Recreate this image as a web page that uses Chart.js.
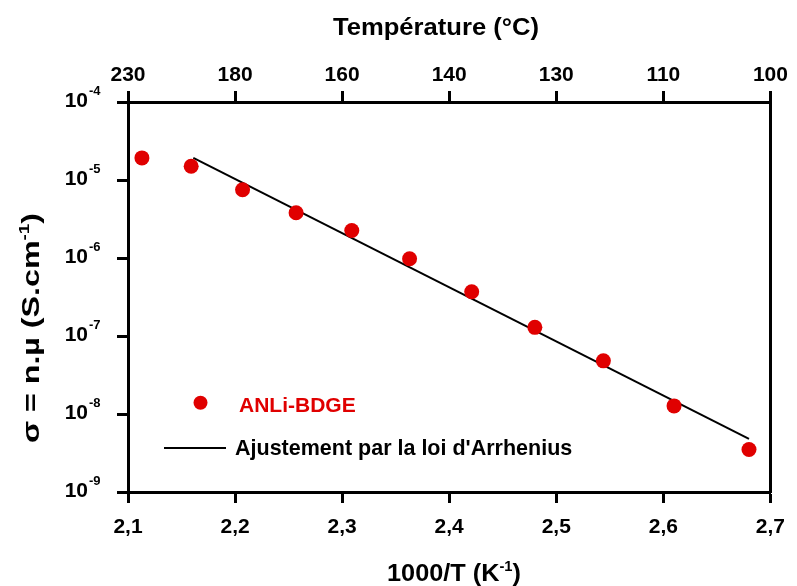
<!DOCTYPE html>
<html>
<head>
<meta charset="utf-8">
<script src="https://cdn.jsdelivr.net/npm/chart.js@4.4.1/dist/chart.umd.min.js"></script>
<style>
  html, body { margin: 0; padding: 0; background: #fff; }
  #wrap { width: 797px; height: 586px; }
</style>
</head>
<body>
<div id="wrap"><canvas id="arrhenius" width="797" height="586"></canvas></div>
<script>
// Values
const invT = [2.113, 2.159, 2.207, 2.257, 2.309, 2.363, 2.421, 2.480, 2.544, 2.610, 2.680];
const sigma = [1.92e-5, 1.50e-5, 7.5e-6, 3.8e-6, 2.25e-6, 9.8e-7, 3.7e-7, 1.29e-7, 4.8e-8, 1.27e-8, 3.5e-9];

// Arrhenius fit (straight line in log scale)
const fitInvT = [2.161, 2.680];
const fitSigma = [1.92e-5, 4.8e-9];

const xTicks = [2.1, 2.2, 2.3, 2.4, 2.5, 2.6, 2.7];
const xTickLabels = ["2,1", "2,2", "2,3", "2,4", "2,5", "2,6", "2,7"];
const tempLabels = ["230", "180", "160", "140", "130", "110", "100"];
const yExponents = [-4, -5, -6, -7, -8, -9];

const seriesName = "ANLi-BDGE";
const fitName = "Ajustement par la loi d'Arrhenius";

const FONT = "'Liberation Sans', Arial, Helvetica, sans-serif";
const red = "#e00000";
const black = "#000000";

// text with superscripts, optionally stretched to a target width
const drawRich = (ctx, parts, x, y, size, align, targetW) => {
  const supSize = Math.round(size * 0.6);
  const widths = parts.map(([t, sup]) => {
    ctx.font = `bold ${sup ? supSize : size}px ${FONT}`;
    return ctx.measureText(t).width;
  });
  const total = widths.reduce((a, b) => a + b, 0);
  const sx = targetW ? targetW / total : 1;
  ctx.save();
  ctx.translate(x, y);
  ctx.scale(sx, 1);
  let cx = align === "center" ? -total / 2 : align === "right" ? -total : 0;
  ctx.textAlign = "left";
  ctx.textBaseline = "alphabetic";
  parts.forEach(([t, sup], i) => {
    ctx.font = `bold ${sup ? supSize : size}px ${FONT}`;
    ctx.fillText(t, cx, sup ? -size * 0.42 : 0);
    cx += widths[i];
  });
  ctx.restore();
};

const decorations = {
  id: "decorations",
  afterDraw(chart) {
    const { ctx, chartArea, scales } = chart;
    ctx.save();
    ctx.fillStyle = black;

    // y tick labels 10^n
    yExponents.forEach((e) => {
      const py = scales.y.getPixelForValue(Math.pow(10, e));
      ctx.font = `bold 21px ${FONT}`;
      ctx.textAlign = "right";
      ctx.textBaseline = "alphabetic";
      ctx.fillText("10", chartArea.left - 40, py + 4.5);
      ctx.font = `bold 13px ${FONT}`;
      ctx.textAlign = "left";
      ctx.fillText(String(e), chartArea.left - 39, py - 7);
    });

    // axis titles
    drawRich(ctx, [["Température (°C)", false]], 436, 35, 24, "center", 206);
    drawRich(ctx, [["1000/T (K", false], ["-1", true], [")", false]], 454, 581, 24, "center", 134);
    ctx.save();
    ctx.translate(39, 328);
    ctx.rotate(-Math.PI / 2);
    drawRich(ctx, [["σ = n.µ (S.cm", false], ["-1", true], [")", false]], 0, 0, 24, "center", 230);
    ctx.restore();

    // legend
    const lx = chartArea.left;
    ctx.fillStyle = red;
    ctx.beginPath();
    ctx.arc(lx + 72.5, 402.7, 7, 0, Math.PI * 2);
    ctx.fill();
    ctx.font = `bold 21px ${FONT}`;
    ctx.textAlign = "left";
    ctx.fillText(seriesName, lx + 111, 411.5);

    ctx.strokeStyle = black;
    ctx.lineWidth = 2;
    ctx.beginPath();
    ctx.moveTo(lx + 36, 448);
    ctx.lineTo(lx + 98, 448);
    ctx.stroke();
    ctx.fillStyle = black;
    ctx.font = `bold 21.5px ${FONT}`;
    ctx.fillText(fitName, lx + 107, 455);
    ctx.restore();
  }
};

const axisGrid = {
  drawOnChartArea: false,
  drawTicks: true,
  tickLength: 11,
  tickWidth: 3,
  tickColor: black
};
const axisBorder = { display: true, color: black, width: 3 };
const tickFont = { family: FONT, size: 21, weight: "bold" };
const setXTicks = (scale) => {
  scale.ticks = xTicks.map((v) => ({ value: v }));
};

new Chart(document.getElementById("arrhenius"), {
  type: "scatter",
  data: {
    datasets: [
      {
        label: seriesName,
        data: invT.map((x, i) => ({ x, y: sigma[i] })),
        backgroundColor: red,
        borderWidth: 0,
        pointRadius: 7.5,
        pointHoverRadius: 7.5,
        order: 1
      },
      {
        label: fitName,
        data: fitInvT.map((x, i) => ({ x, y: fitSigma[i] })),
        showLine: true,
        borderColor: black,
        borderWidth: 2,
        pointRadius: 0,
        pointHoverRadius: 0,
        order: 2
      }
    ]
  },
  options: {
    responsive: false,
    animation: false,
    devicePixelRatio: 1,
    layout: { padding: 0 },
    plugins: {
      legend: { display: false },
      tooltip: { enabled: false }
    },
    scales: {
      x: {
        type: "linear",
        position: "bottom",
        min: 2.1,
        max: 2.7,
        afterBuildTicks: setXTicks,
        afterFit: (scale) => { scale.height = 94; },
        grid: axisGrid,
        border: axisBorder,
        ticks: {
          color: black,
          font: tickFont,
          padding: 12,
          maxRotation: 0,
          autoSkip: false,
          callback: (v, i) => xTickLabels[i]
        }
      },
      x2: {
        type: "linear",
        position: "top",
        min: 2.1,
        max: 2.7,
        afterBuildTicks: setXTicks,
        afterFit: (scale) => { scale.height = 102; },
        grid: axisGrid,
        border: axisBorder,
        ticks: {
          color: black,
          font: tickFont,
          padding: 3,
          maxRotation: 0,
          autoSkip: false,
          callback: (v, i) => tempLabels[i]
        }
      },
      y: {
        type: "logarithmic",
        position: "left",
        min: 1e-9,
        max: 1e-4,
        afterBuildTicks: (scale) => {
          scale.ticks = yExponents.map((e) => ({ value: Math.pow(10, e) }));
        },
        afterFit: (scale) => { scale.width = 128; },
        grid: axisGrid,
        border: axisBorder,
        ticks: { display: false }
      },
      y2: {
        type: "linear",
        position: "right",
        min: 0,
        max: 1,
        afterFit: (scale) => { scale.width = 20; },
        grid: { display: false },
        border: axisBorder,
        ticks: { display: false }
      }
    }
  },
  plugins: [decorations]
});
</script>
</body>
</html>
